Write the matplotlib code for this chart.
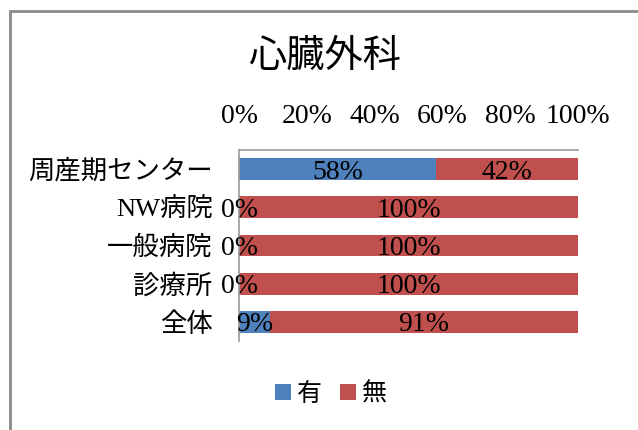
import matplotlib
matplotlib.use("Agg")
import matplotlib.pyplot as plt
from matplotlib.patches import Rectangle
import numpy as np

plt.rcParams['font.family'] = ['Liberation Serif', 'Noto Sans CJK JP']

categories = ['周産期センター', 'NW病院', '一般病院', '診療所', '全体']
yes_pct = [58, 0, 0, 0, 9]
no_pct = [42, 100, 100, 100, 91]
series_names = ['有', '無']
colors = ['#4F81BD', '#C0504D']
ticks = [0, 20, 40, 60, 80, 100]

fig = plt.figure(figsize=(6.38, 4.30), dpi=100)
ax = fig.add_axes([239 / 638, 1 - 341 / 430, (578 - 239) / 638, (341 - 150) / 430])

y = np.arange(len(categories))
b1 = ax.barh(y, yes_pct, height=0.575, color=colors[0], label=series_names[0])
b2 = ax.barh(y, no_pct, left=yes_pct, height=0.575, color=colors[1], label=series_names[1])

# value labels centred on each segment
for i in range(len(categories)):
    ax.text(yes_pct[i] / 2, y[i] + 0.08, f'{yes_pct[i]}%', ha='center', va='center', fontsize=20)
    ax.text(yes_pct[i] + no_pct[i] / 2, y[i] + 0.08, f'{no_pct[i]}%', ha='center', va='center', fontsize=20)

ax.set_xlim(0, 100)
ax.set_ylim(len(categories) - 0.5, -0.5)
ax.set_xticks(ticks)
ax.set_xticklabels([f'{t}%' for t in ticks])
ax.xaxis.tick_top()
ax.set_yticks(y)
ax.set_yticklabels(categories)
ax.tick_params(axis='x', length=0, pad=15, labelsize=20)
ax.tick_params(axis='y', length=0, pad=19, labelsize=19)
for s in ['right', 'bottom']:
    ax.spines[s].set_visible(False)
for s in ['top', 'left']:
    ax.spines[s].set_color('#9a9a9a')
    ax.spines[s].set_linewidth(1.2)

fig.text(325 / 638, 1 - 57 / 430, '心臓外科', ha='center', va='center', fontsize=27.5)

fig.legend(handles=[b1, b2], labels=series_names, loc='center', bbox_to_anchor=(331 / 638, 1 - 394 / 430),
           ncol=2, frameon=False, fontsize=18, handlelength=0.65, handleheight=0.65,
           handletextpad=0.25, columnspacing=0.7)

# outer chart frame
fig.patches.append(Rectangle((9.5 / 638, -0.2), 1.2, 1.2 - 10.5 / 430, transform=fig.transFigure,
                             fill=False, edgecolor='#8a8a8a', linewidth=2))

fig.savefig('out.png', dpi=100)
